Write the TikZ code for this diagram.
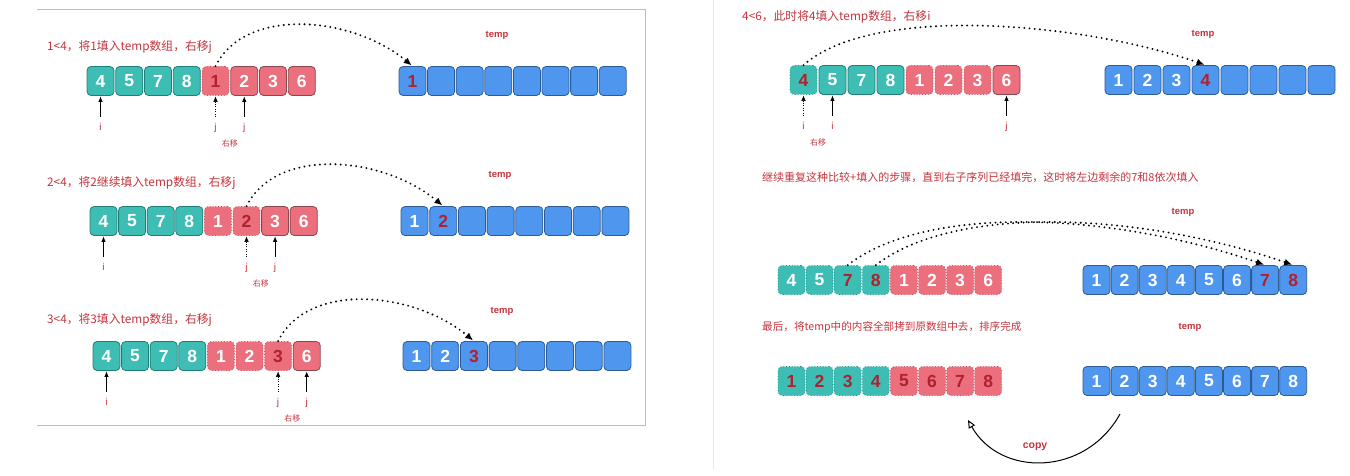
\documentclass[tikz,border=0pt]{standalone}
\usepackage{fontspec}
\setmainfont{Noto Sans CJK SC}
\newfontfamily\latinfont{Liberation Sans}
\usetikzlibrary{positioning,arrows.meta,calc}
\definecolor{tealfill}{RGB}{61,189,180}
\definecolor{tealline}{RGB}{31,127,120}
\definecolor{tealdot}{RGB}{40,150,140}
\definecolor{pinkfill}{RGB}{235,111,125}
\definecolor{pinkline}{RGB}{140,70,78}
\definecolor{pinkdot}{RGB}{200,80,95}
\definecolor{bluefill}{RGB}{78,150,238}
\definecolor{blueline}{RGB}{45,92,148}
\definecolor{digitred}{RGB}{176,34,48}
\definecolor{notered}{RGB}{196,52,61}
\definecolor{framegray}{RGB}{188,188,188}
\definecolor{framelight}{RGB}{232,232,232}
\begin{document}
\begin{tikzpicture}[x=1pt,y=-1pt,
  cell/.style={rectangle, rounded corners=4pt, minimum width=27pt, minimum height=29pt, inner sep=0pt, line width=0.8pt, text=white, font=\latinfont\bfseries\fontsize{17.5}{17.5}\selectfont},
  ts/.style={cell, fill=tealfill, draw=tealline},
  td/.style={ts, draw=tealdot, dotted},
  tr/.style={td, text=digitred},
  ps/.style={cell, fill=pinkfill, draw=pinkline},
  pd/.style={ps, draw=pinkdot, dotted},
  pr/.style={pd, text=digitred},
  bw/.style={cell, fill=bluefill, draw=blueline},
  br/.style={bw, text=digitred},
  note/.style={anchor=west, text=notered, inner sep=0pt, font=\fontsize{11.8}{13}\selectfont},
  templbl/.style={text=notered, inner sep=0pt, font=\latinfont\bfseries\fontsize{9.5}{10}\selectfont},
  idx/.style={text=notered, inner sep=1pt, text height=7pt, text depth=2pt, font=\latinfont\fontsize{10}{10}\selectfont},
  shiftlbl/.style={text=notered, inner sep=1pt, font=\fontsize{8}{8}\selectfont},
  ptr/.style={-{Latex[length=5.5pt,width=4.5pt]}, line width=0.8pt, shorten <=5pt, shorten >=0.5pt},
  oldptr/.style={ptr, line width=0.5pt, dotted},
  hop/.style={line width=2.1pt, line cap=round, dash pattern=on 0pt off 5.2pt, -{Latex[length=8pt,width=7pt]}, shorten >=1pt},
  frame/.style={draw=framegray, line width=0.8pt},
  frame2/.style={draw=framelight, line width=0.8pt}
]
\useasboundingbox (0,0) rectangle (1350,476);

% panels
\draw[frame] (37,9) -- (645,9) -- (645,425) -- (37,425);
\draw[frame2] (713,0) -- (713,470);

% step 1
\node[note] (n1) at (47,47) {1<4，将1填入temp数组，右移j};
\node[templbl] (tl1) at (497,35) {temp};
\foreach \v/\s [count=\k] in {4/ts,5/ts,7/ts,8/ts,1/pr,2/ps,3/ps,6/ps}
  \node[\s] (a1-\k) at ({87+13.5+(\k-1)*28.75},81) {\v};
\foreach \v/\s [count=\k] in {1/br,/bw,/bw,/bw,/bw,/bw,/bw,/bw}
  \node[\s] (t1-\k) at ({399+13.5+(\k-1)*28.6},81) {\v};
\node[idx, below=26pt of a1-1] (i1) {i};
\node[idx, below=26pt of a1-5] (j1a) {j};
\node[idx, below=26pt of a1-6] (j1b) {j};
\draw[ptr] (i1) -- (a1-1);
\draw[oldptr] (j1a) -- (a1-5);
\draw[ptr] (j1b) -- (a1-6);
\path (j1a) -- (j1b) node[shiftlbl, midway, below=11pt] (s1) {右移};
\draw[hop] (a1-5.north) .. controls +(30,-60) and +(-60,-50) .. (t1-1.north);

% step 2
\node[note] (n2) at (47,183) {2<4，将2继续填入temp数组，右移j};
\node[templbl] (tl2) at (500,175) {temp};
\foreach \v/\s [count=\k] in {4/ts,5/ts,7/ts,8/ts,1/pd,2/pr,3/ps,6/ps}
  \node[\s] (a2-\k) at ({90+13.5+(\k-1)*28.6},221) {\v};
\foreach \v/\s [count=\k] in {1/bw,2/br,/bw,/bw,/bw,/bw,/bw,/bw}
  \node[\s] (t2-\k) at ({401+13.5+(\k-1)*28.7},221) {\v};
\node[idx, below=26pt of a2-1] (i2) {i};
\node[idx, below=26pt of a2-6] (j2a) {j};
\node[idx, below=26pt of a2-7] (j2b) {j};
\draw[ptr] (i2) -- (a2-1);
\draw[oldptr] (j2a) -- (a2-6);
\draw[ptr] (j2b) -- (a2-7);
\path (j2a) -- (j2b) node[shiftlbl, midway, below=11pt] (s2) {右移};
\draw[hop] (a2-6.north) .. controls +(30,-60) and +(-60,-50) .. (t2-2.north);

% step 3
\node[note] (n3) at (47,320) {3<4，将3填入temp数组，右移j};
\node[templbl] (tl3) at (502,311) {temp};
\foreach \v/\s [count=\k] in {4/ts,5/ts,7/ts,8/ts,1/pd,2/pd,3/pr,6/ps}
  \node[\s] (a3-\k) at ({93+13.5+(\k-1)*28.6},356) {\v};
\foreach \v/\s [count=\k] in {1/bw,2/bw,3/br,/bw,/bw,/bw,/bw,/bw}
  \node[\s] (t3-\k) at ({403+13.5+(\k-1)*28.7},356) {\v};
\node[idx, below=26pt of a3-1] (i3) {i};
\node[idx, below=26pt of a3-7] (j3a) {j};
\node[idx, below=26pt of a3-8] (j3b) {j};
\draw[ptr] (i3) -- (a3-1);
\draw[oldptr] (j3a) -- (a3-7);
\draw[ptr] (j3b) -- (a3-8);
\path (j3a) -- (j3b) node[shiftlbl, midway, below=11pt] (s3) {右移};
\draw[hop] (a3-7.north) .. controls +(30,-60) and +(-60,-50) .. (t3-3.north);

% step 4
\node[note] (n4) at (742,17) {4<6，此时将4填入temp数组，右移i};
\node[templbl] (tl4) at (1203,34) {temp};
\foreach \v/\s [count=\k] in {4/tr,5/ts,7/ts,8/ts,1/pd,2/pd,3/pd,6/ps}
  \node[\s] (b1-\k) at ({790+13.5+(\k-1)*29},80) {\v};
\foreach \v/\s [count=\k] in {1/bw,2/bw,3/bw,4/br,/bw,/bw,/bw,/bw}
  \node[\s] (u1-\k) at ({1105+13.5+(\k-1)*29},80) {\v};
\node[idx, below=26pt of b1-1] (i4a) {i};
\node[idx, below=26pt of b1-2] (i4b) {i};
\node[idx, below=26pt of b1-8] (j4) {j};
\draw[oldptr] (i4a) -- (b1-1);
\draw[ptr] (i4b) -- (b1-2);
\draw[ptr] (j4) -- (b1-8);
\path (i4a) -- (i4b) node[shiftlbl, midway, below=11pt] (s4) {右移};
\draw[hop] (b1-1.north) .. controls +(70,-62) and +(-120,-42) .. (u1-4.north);

% step 5
\node[note, font=\fontsize{11}{13}\selectfont] (n5) at (762,177) {继续重复这种比较+填入的步骤，直到右子序列已经填完，这时将左边剩余的7和8依次填入};
\node[templbl] (tl5) at (1183,212) {temp};
\foreach \v/\s [count=\k] in {4/td,5/td,7/tr,8/tr,1/pd,2/pd,3/pd,6/pd}
  \node[\s] (b2-\k) at ({778+13.5+(\k-1)*28.1},280) {\v};
\foreach \v/\s [count=\k] in {1/bw,2/bw,3/bw,4/bw,5/bw,6/bw,7/br,8/br}
  \node[\s] (u2-\k) at ({1083+13.5+(\k-1)*28.1},280) {\v};
\draw[hop] (b2-3.north) .. controls +(80,-62) and +(-150,-52) .. (u2-7.north);
\draw[hop] (b2-4.north) .. controls +(80,-62) and +(-150,-52) .. (u2-8.north);

% step 6
\node[note, font=\fontsize{10.6}{13}\selectfont] (n6) at (762,327) {最后，将temp中的内容全部拷到原数组中去，排序完成};
\node[templbl] (tl6) at (1190,327) {temp};
\foreach \v/\s [count=\k] in {1/tr,2/tr,3/tr,4/tr,5/pr,6/pr,7/pr,8/pr}
  \node[\s] (b3-\k) at ({778+13.5+(\k-1)*28.1},381) {\v};
\foreach \v/\s [count=\k] in {1/bw,2/bw,3/bw,4/bw,5/bw,6/bw,7/bw,8/bw}
  \node[\s] (u3-\k) at ({1083+13.5+(\k-1)*28.1},381) {\v};
\coordinate (cpyA) at (1120,414);
\coordinate (cpyB) at (968,420);
\draw[line width=1pt, -{Triangle[open,length=8pt,width=7pt]}] (cpyA) .. controls (1085,477) and (1000,477) .. (cpyB);
\node[templbl, font=\latinfont\bfseries\fontsize{10.5}{11}\selectfont] (cp) at (1035,447) {copy};

\end{tikzpicture}
\end{document}
